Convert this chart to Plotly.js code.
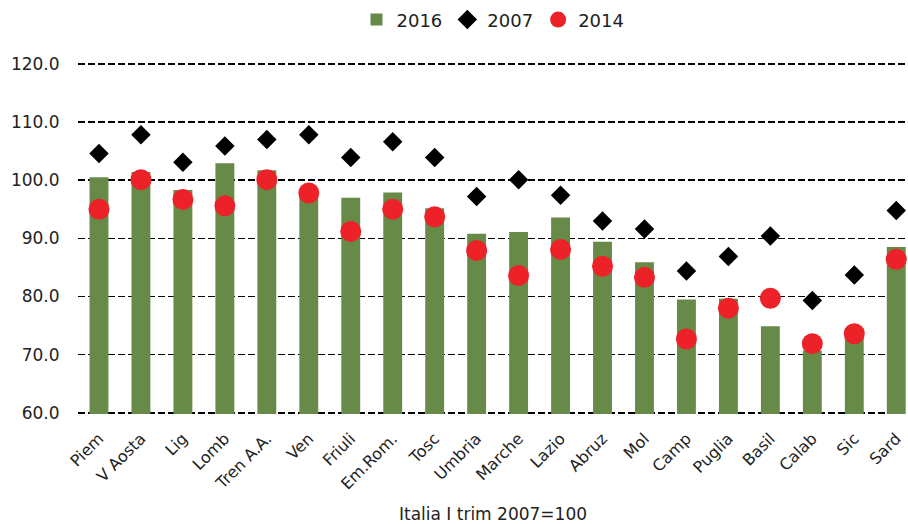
<!DOCTYPE html>
<html>
<head>
<meta charset="utf-8">
<script src="https://cdn.plot.ly/plotly-3.0.1.min.js"></script>
<style>html,body{margin:0;padding:0;background:#fff;}#chart{width:908px;height:524px;}</style>
</head>
<body>
<div id="chart"></div>
<script>
const regions = ["Piem","V Aosta","Lig","Lomb","Tren A.A.","Ven","Friuli","Em.Rom.","Tosc","Umbria","Marche","Lazio","Abruz","Mol","Camp","Puglia","Basil","Calab","Sic","Sard"];
const values2016 = [100.5,101.4,98.3,102.9,101.7,97.5,97.0,97.9,95.2,90.8,91.1,93.6,89.4,85.9,79.5,79.6,74.9,70.7,74.6,88.5];
const values2007 = [104.6,107.8,103.1,105.9,107.0,107.8,103.9,106.6,103.9,97.2,100.1,97.4,93.0,91.6,84.4,86.9,90.4,79.3,83.7,94.8];
const values2014 = [95.0,100.1,96.7,95.6,100.1,97.8,91.2,95.0,93.7,87.9,83.6,88.1,85.2,83.3,72.7,78.0,79.7,71.9,73.6,86.4];
const yTicks = [60,70,80,90,100,110,120];
const yTickText = ["60.0","70.0","80.0","90.0","100.0","110.0","120.0"];

const idx = regions.map((_, i) => i);
const fontFam = '"DejaVu Sans", "Liberation Sans", Arial, sans-serif';

const traces = [
  {type:'bar', name:'2016', x: idx, y: values2016,
   marker:{color:'#678a48'}, width:0.45},
  {type:'scatter', mode:'markers', name:'2007', x: idx, y: values2007,
   marker:{symbol:'diamond', color:'#000000', size:15}},
  {type:'scatter', mode:'markers', name:'2014', x: idx, y: values2014,
   marker:{symbol:'circle', color:'#ec2228', size:21}}
];

const layout = {
  width:908, height:524,
  margin:{l:78, r:0, t:61, b:110},
  paper_bgcolor:'#ffffff', plot_bgcolor:'#ffffff',
  font:{family:fontFam, size:16, color:'#222222'},
  showlegend:true,
  legend:{orientation:'h', x:0.5, xanchor:'center', yref:'container', y:0.962, yanchor:'middle',
          font:{size:18, color:'#222222'}, traceorder:'normal', itemwidth:30},
  xaxis:{
    range:[-0.5, 19.28], tickmode:'array', tickvals: idx, ticktext: regions,
    tickangle:-45, showgrid:false, zeroline:false, showline:false,
    ticks:'outside', ticklen:8, tickcolor:'rgba(0,0,0,0)',
    tickfont:{size:16, color:'#222222'},
    title:{text:'Italia I trim 2007=100', font:{size:17, color:'#222222'}, standoff:16}
  },
  yaxis:{
    range:[59.8, 120.5], tickmode:'array', tickvals: yTicks, ticktext: yTickText,
    showgrid:true, gridcolor:'#000000', griddash:'7px,3px', gridwidth:1.6,
    zeroline:false, showline:false,
    ticks:'outside', ticklen:14, tickcolor:'rgba(0,0,0,0)',
    tickfont:{size:17, color:'#222222'}
  },
  bargap:0.55
};

Plotly.newPlot('chart', traces, layout, {displayModeBar:false, staticPlot:true});
</script>
</body>
</html>
